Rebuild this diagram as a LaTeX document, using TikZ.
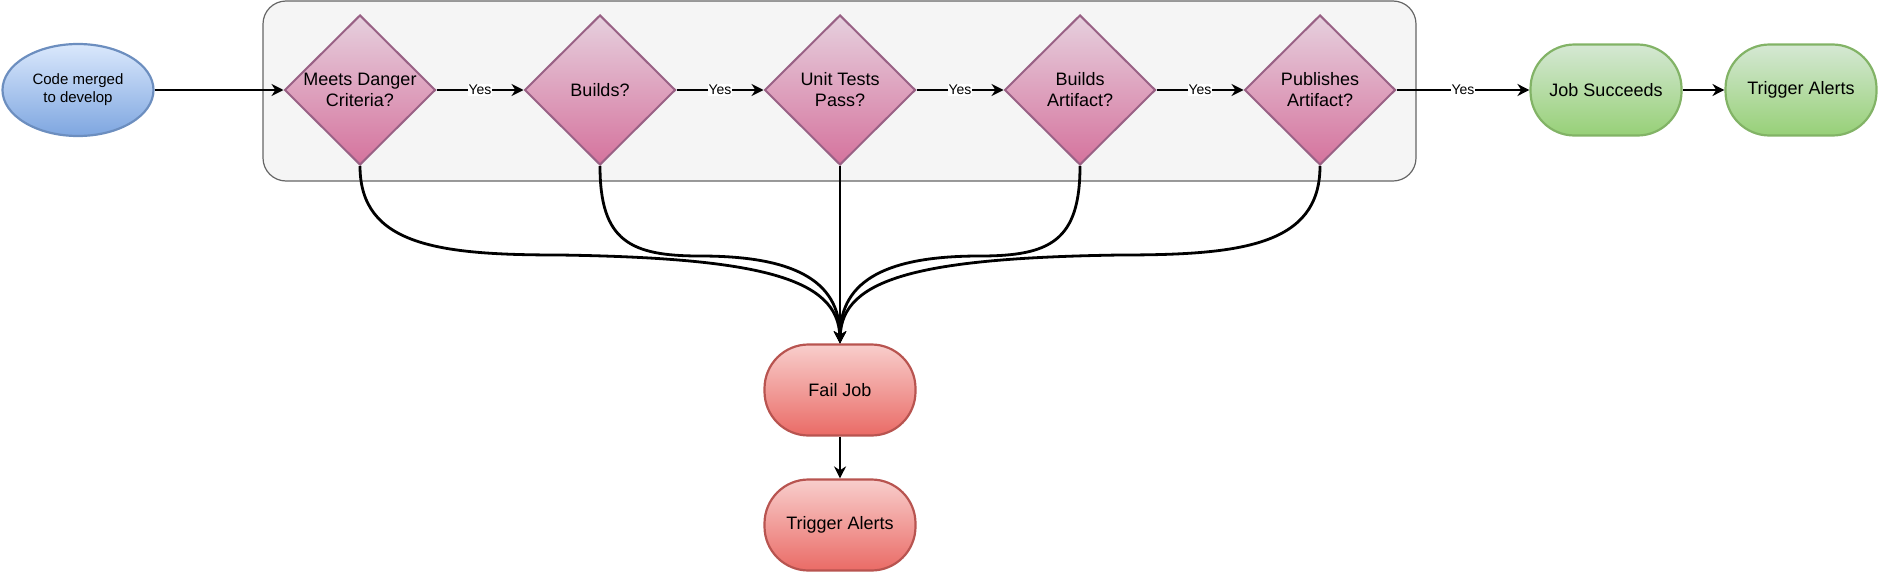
\documentclass[tikz,border=0pt]{standalone}
\usepackage{fontspec}
\setmainfont{Liberation Sans}
\usetikzlibrary{arrows.meta, shapes.geometric}

\definecolor{starttop}{HTML}{DAE8FC}
\definecolor{startbot}{HTML}{7EA6E0}
\definecolor{startline}{HTML}{6C8EBF}
\definecolor{asktop}{HTML}{E6D0DE}
\definecolor{askbot}{HTML}{D5739D}
\definecolor{askline}{HTML}{996185}
\definecolor{oktop}{HTML}{D5E8D4}
\definecolor{okbot}{HTML}{97D077}
\definecolor{okline}{HTML}{82B366}
\definecolor{badtop}{HTML}{F8CECC}
\definecolor{badbot}{HTML}{EA6B66}
\definecolor{badline}{HTML}{B85450}
\definecolor{groupfill}{HTML}{F5F5F5}
\definecolor{groupline}{HTML}{666666}

\begin{document}
\begin{tikzpicture}[x=0.5pt, y=-0.5pt,
    start/.style={ellipse, draw=startline, line width=1.1pt, top color=starttop, bottom color=startbot,
        minimum width=75.5pt, minimum height=46pt, inner sep=0pt, align=center,
        font=\fontsize{7.5}{9}\selectfont},
    ask/.style={diamond, draw=askline, line width=1pt, top color=asktop, bottom color=askbot,
        minimum width=75.5pt, minimum height=75pt, inner sep=0pt, align=center,
        font=\fontsize{9}{10.5}\selectfont},
    okbox/.style={rectangle, rounded corners=22pt, draw=okline, line width=1.1pt, top color=oktop, bottom color=okbot,
        minimum width=75.5pt, minimum height=45.5pt, align=center, font=\fontsize{9}{10.5}\selectfont},
    badbox/.style={okbox, draw=badline, top color=badtop, bottom color=badbot},
    link/.style={line width=1.4pt, -{Stealth[length=6pt, width=6pt]}},
    yes/.style={fill=white, inner sep=0.5pt, font=\fontsize{7}{8}\selectfont}]

    \useasboundingbox (0,0) rectangle (1878,573);

    % grey group behind the checks
    \draw[fill=groupfill, draw=groupline, line width=0.6pt, rounded corners=11.5pt] (263,1) rectangle (1416,181);

    % start
    \node[start] (merged) at (78,90) {Code merged\\to develop};

    % checks
    \node[ask] (danger) at (360,90) {Meets Danger\\Criteria?};
    \node[ask] (builds) at (600,90) {Builds?};
    \node[ask] (tests) at (840,90) {Unit Tests\\Pass?};
    \node[ask] (artifact) at (1080,90) {Builds\\Artifact?};
    \node[ask] (publish) at (1320,90) {Publishes\\Artifact?};

    % success path
    \node[okbox] (succeed) at (1606,90) {Job Succeeds};
    \node[okbox] (alertok) at (1801,90) {Trigger Alerts};

    % failure path
    \node[badbox] (fail) at (840,390) {Fail Job};
    \node[badbox] (alertbad) at (840,525) {Trigger Alerts};

    % yes arrows
    \draw[link] (merged) -- (danger.west);
    \draw[link] (danger.east) -- node[yes] {Yes} (builds.west);
    \draw[link] (builds.east) -- node[yes] {Yes} (tests.west);
    \draw[link] (tests.east) -- node[yes] {Yes} (artifact.west);
    \draw[link] (artifact.east) -- node[yes] {Yes} (publish.west);
    \draw[link] (publish.east) -- node[yes] {Yes} (succeed.west);
    \draw[link] (succeed) -- (alertok);

    % no arrows
    \coordinate (m1) at (560,255);
    \coordinate (m2) at (700,256);
    \coordinate (m4) at (980,256);
    \coordinate (m5) at (1120,255);
    \draw[link] (danger.south) .. controls +(0,80) and +(-120,0) .. (m1) .. controls +(200,3) and +(-2,-65) .. (fail.north);
    \draw[link] (builds.south) .. controls +(0,75) and +(-70,0) .. (m2) .. controls +(90,0) and +(0,-65) .. (fail.north);
    \draw[link] (tests.south) -- (fail.north);
    \draw[link] (artifact.south) .. controls +(0,75) and +(70,0) .. (m4) .. controls +(-90,0) and +(0,-65) .. (fail.north);
    \draw[link] (publish.south) .. controls +(0,80) and +(120,0) .. (m5) .. controls +(-200,3) and +(2,-65) .. (fail.north);
    \draw[link] (fail) -- (alertbad);
\end{tikzpicture}
\end{document}
